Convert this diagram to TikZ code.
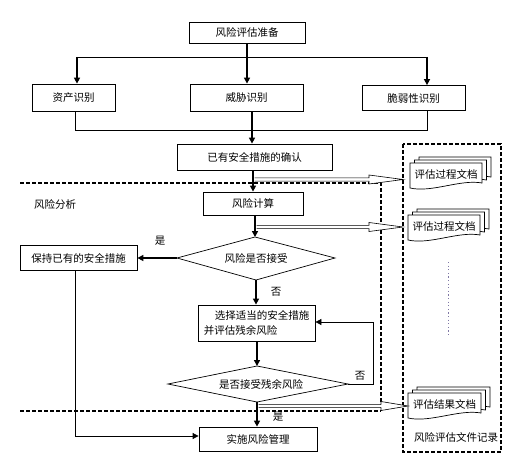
\documentclass[tikz,border=0pt]{standalone}
\usepackage{fontspec}
\newfontfamily\cjk{Noto Sans CJK SC}
\usetikzlibrary{arrows.meta,calc}
\definecolor{dotcol}{RGB}{128,120,165}
\tikzset{
 box/.style={draw,line width=0.8pt,fill=white,inner sep=0pt,font=\cjk\fontsize{10.5}{15}\selectfont},
 lbl/.style={inner sep=0pt,font=\cjk\fontsize{10.5}{13}\selectfont},
 thk/.style={line width=1.5pt,-{Triangle[length=6pt,width=6pt]}},
 thn/.style={line width=0.8pt},
 thnarr/.style={line width=0.8pt,-{Triangle[length=6pt,width=6pt]}},
 region/.style={line width=1.4pt,dash pattern=on 4pt off 2pt},
 hollow/.style={fill=white,line width=0.6pt},
 docline/.style={fill=white,line width=0.7pt},
}
\newcommand\docshape[4]{\filldraw[docline] (#1,#2) -- (#3,#2) -- (#3,{(#4)-5}) .. controls ({(#3)-0.3*((#3)-(#1))},{(#4)-9}) and ({(#1)+0.3*((#3)-(#1))},{(#4)+5}) .. (#1,#4) -- cycle;}
\newcommand\mdoc[6]{%
 \docshape{#2+9}{#3-6}{#4+9}{#5-6}
 \docshape{#2+4.5}{#3-3}{#4+4.5}{#5-3}
 \docshape{#2}{#3}{#4}{#5}
 \node[lbl] (#1) at ({((#2)+(#4))/2},{(#3)+11}) {#6};}
\newcommand\hollowarrow[4]{%
 \filldraw[hollow] (#1,{(#2)-1.6}) -- (#3,{(#2)-1.6}) -- (#3,{(#2)-4.5}) -- (#4,#2) -- (#3,{(#2)+4.5}) -- (#3,{(#2)+1.6}) -- (#1,{(#2)+1.6});}
\begin{document}
\begin{tikzpicture}[x=1pt,y=-1pt]
\useasboundingbox (0,0) rectangle (519,476);
% region lines
\draw[region] (20,183) -- (381,183) -- (381,411);
\draw[region] (20,411) -- (381,411);
\draw[region,line width=1.2pt] (403,144) rectangle (501,452);
% boxes
\node[box,minimum width=116,minimum height=21] (prep) at (247,32.5) {风险评估准备};
\node[box,minimum width=83,minimum height=27] (asset) at (73.5,97.5) {资产识别};
\node[box,minimum width=113,minimum height=27] (threat) at (246.5,97.5) {威胁识别};
\node[box,minimum width=103,minimum height=25] (vuln) at (413.5,98) {脆弱性识别};
\node[box,minimum width=155,minimum height=26] (exist) at (254.5,157) {已有安全措施的确认};
\node[box,minimum width=100,minimum height=23] (calc) at (253,203.5) {风险计算};
\node[box,minimum width=117,minimum height=25] (keep) at (78.5,258) {保持已有的安全措施};
\node[box,minimum width=117,minimum height=36,align=left] (sel) at (256.5,323) {\hspace*{11pt}选择适当的安全措施\\并评估残余风险};
\node[box,minimum width=118,minimum height=24] (impl) at (258,439) {实施风险管理};
% diamonds
\coordinate (d1t) at (255,237); \coordinate (d1r) at (335,258); \coordinate (d1b) at (256,280); \coordinate (d1l) at (177,258);
\draw[thn,line width=0.7pt] (d1t) -- (d1r) -- (d1b) -- (d1l) -- cycle;
\node[lbl] (d1) at (256,258) {风险是否接受};
\coordinate (d2t) at (257,366); \coordinate (d2r) at (348,384); \coordinate (d2b) at (257,402); \coordinate (d2l) at (168,384);
\draw[thn,line width=0.7pt] (d2t) -- (d2r) -- (d2b) -- (d2l) -- cycle;
\node[lbl] (d2) at (261,384) {是否接受残余风险};
% documents
\mdoc{doc1}{410}{163}{482}{188}{评估过程文档}
\mdoc{doc2}{408}{215}{480}{240}{评估过程文档}
\mdoc{doc3}{408}{393}{481}{418}{评估结果文档}
\draw[dotcol,line width=1pt,dash pattern=on 1.2pt off 2.4pt] (448,262) -- (448,337);
% hollow arrows
\hollowarrow{254.5}{179.5}{369}{403}
\hollowarrow{256.5}{227}{369}{403}
\hollowarrow{258.5}{406}{381}{408}
% connectors
\coordinate (sl) at (77,57); \coordinate (sr) at (427,57);
\draw[thk] (prep.south) -- (prep.south |- threat.north);
\draw[thn] (sl) -- (sr);
\draw[thk] (sl) -- (sl |- asset.north);
\draw[thk] (sr) -- (sr |- vuln.north);
\coordinate (ml) at (75,130); \coordinate (mr) at (427,130);
\draw[thn] (ml |- asset.south) -- (ml) -- (mr) -- (mr |- vuln.south);
\coordinate (cx) at (252,0);
\draw[thk] (cx |- threat.south) -- (cx |- exist.north);
\coordinate (cy) at (253,0);
\draw[thk] (cy |- exist.south) -- (cy |- calc.north);
\draw[thk] (d1t |- calc.south) -- (d1t);
\draw[thk] (d1l) -- (keep.east);
\draw[thk] (d1b) -- (d1b |- sel.north);
\draw[thk] (d2t |- sel.south) -- (d2t);
\coordinate (lp) at (373,322);
\draw[thnarr] (d2r) -| (lp) -- (lp -| sel.east);
\draw[thk] (d2b) -- (d2b |- impl.north);
\coordinate (kd) at (75,436);
\draw[thnarr] (kd |- keep.south) -- (kd) -- (kd -| impl.west);
% labels
\node[lbl] (yes1) at (160,241) {是};
\node[lbl] (no1) at (276,292) {否};
\node[lbl] (no2) at (360,376) {否};
\node[lbl] (yes2) at (278,417) {是};
\node[lbl] (ra) at (55,204) {风险分析};
\node[lbl] (rec) at (456,437) {风险评估文件记录};
\end{tikzpicture}
\end{document}
